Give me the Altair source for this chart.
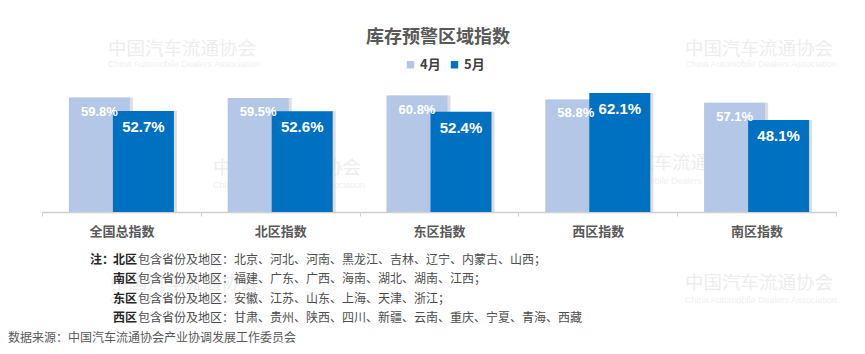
import altair as alt
import pandas as pd

# ---- data ----
categories = ["全国总指数", "北区指数", "东区指数", "西区指数", "南区指数"]
apr_values = [59.8, 59.5, 60.8, 58.8, 57.1]
may_values = [52.7, 52.6, 52.4, 62.1, 48.1]
months = ["4月", "5月"]
month_colors = ["#B4C7E7", "#0070C0"]

title_text = "库存预警区域指数"
note_regions = ["北区", "南区", "东区", "西区"]
note_lists = [
    "包含省份及地区：北京、河北、河南、黑龙江、吉林、辽宁、内蒙古、山西；",
    "包含省份及地区：福建、广东、广西、海南、湖北、湖南、江西；",
    "包含省份及地区：安徽、江苏、山东、上海、天津、浙江；",
    "包含省份及地区：甘肃、贵州、陕西、四川、新疆、云南、重庆、宁夏、青海、西藏",
]
source_text = "数据来源：中国汽车流通协会产业协调发展工作委员会"
wm_cn = "中国汽车流通协会"
wm_en = "China Automobile Dealers Association"

rows = []
for c, a, m in zip(categories, apr_values, may_values):
    rows.append({"cat": c, "month": months[0], "value": a, "label": f"{a:.1f}%"})
    rows.append({"cat": c, "month": months[1], "value": m, "label": f"{m:.1f}%"})
df = pd.DataFrame(rows)

CJK = "Noto Sans CJK SC"
NUM = "Liberation Sans"
W, H = 794, 134

x_enc = alt.X(
    "cat:N",
    sort=categories,
    scale=alt.Scale(paddingInner=0, paddingOuter=0),
    axis=alt.Axis(
        title=None, labelAngle=0, labelFont=CJK, labelFontSize=13,
        labelFontWeight="bold", labelColor="#595959", labelPadding=9,
        domainColor="#d0d0d0", domainWidth=1.5, tickColor="#d0d0d0",
        tickSize=4, tickBand="extent",
    ),
)
y_enc = alt.Y("value:Q", scale=alt.Scale(domain=[0, 70]), axis=None)
color_enc = alt.Color(
    "month:N",
    scale=alt.Scale(domain=months, range=month_colors),
    legend=alt.Legend(
        orient="none", legendX=362, legendY=-20, direction="horizontal",
        title=None, symbolType="square", symbolSize=55, symbolStrokeWidth=0,
        labelFont=CJK, labelFontSize=13, labelFontWeight="bold",
        labelColor="#404040", columnPadding=7, labelOffset=3, padding=0,
    ),
)

base = alt.Chart(df)
one = pd.DataFrame({"a": [0]})


def txt(s, x, y, size, color, weight="normal", font=CJK, align="left"):
    return alt.Chart(one).mark_text(
        align=align, baseline="middle", font=font, fontSize=size,
        color=color, fontWeight=weight,
    ).encode(x=alt.value(x), y=alt.value(y), text=alt.value(s))


# watermarks (faint)
wm_layers = []
for (wx, wy, gap) in [(66, -29, 15), (643, -29, 15), (171, 90, 17), (556, 85, 18), (68, 205, 17), (643, 205, 17)]:
    wm_layers.append(txt(wm_cn, wx, wy, 18.5, "#ededed", font=CJK))
    wm_layers.append(txt(wm_en, wx, wy + gap, 9, "#efefef", font="Liberation Sans"))

shadow_apr = base.transform_filter(alt.datum.month == months[0]).mark_bar(
    width=61, xOffset=-22 + 3, color="#c8c8c8", opacity=0.6
).encode(x=x_enc, y=y_enc)
shadow_may = base.transform_filter(alt.datum.month == months[1]).mark_bar(
    width=61, xOffset=22 + 3, color="#c8c8c8", opacity=0.6
).encode(x=x_enc, y=y_enc)

bars_apr = base.transform_filter(alt.datum.month == months[0]).mark_bar(
    width=61, xOffset=-22
).encode(x=x_enc, y=y_enc, color=color_enc)
bars_may = base.transform_filter(alt.datum.month == months[1]).mark_bar(
    width=61, xOffset=22
).encode(x=x_enc, y=y_enc, color=color_enc)

lab_apr = base.transform_filter(alt.datum.month == months[0]).mark_text(
    xOffset=-22, dy=14, baseline="middle", color="white", fontWeight="bold",
    font=NUM, fontSize=13,
).encode(x=x_enc, y=y_enc, text="label:N")
lab_may = base.transform_filter(alt.datum.month == months[1]).mark_text(
    xOffset=22, dy=16, baseline="middle", color="white", fontWeight="bold",
    font=NUM, fontSize=15,
).encode(x=x_enc, y=y_enc, text="label:N")

title = txt(title_text, 396, -40, 18, "#595959", weight="bold", align="center")

note_layers = [txt("注：", 48, 182, 12, "#262626", weight="bold")]
for i, (r, l) in enumerate(zip(note_regions, note_lists)):
    yy = 182 + i * 19.3
    note_layers.append(txt(r, 71, yy, 12, "#262626", weight="bold"))
    note_layers.append(txt(l, 96, yy, 12, "#4d4d4d"))
note_layers.append(txt(source_text, -34, 260, 12, "#595959"))

chart = alt.layer(
    *wm_layers, shadow_apr, shadow_may, bars_apr, bars_may, lab_apr, lab_may,
    title, *note_layers,
).properties(
    width=W, height=H,
    autosize=alt.AutoSizeParams(type="none"),
    padding={"left": 42, "top": 78, "right": 29, "bottom": 142},
    background="white",
).configure_view(stroke=None)

chart.save("out.html", embed_options={"renderer": "svg", "actions": False})
